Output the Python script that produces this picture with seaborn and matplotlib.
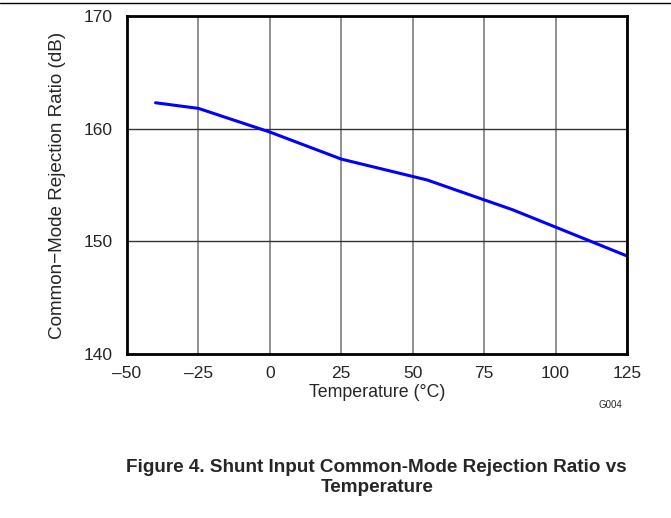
import matplotlib
matplotlib.use('Agg')
import matplotlib.pyplot as plt
import seaborn as sns
import pandas as pd
from matplotlib.lines import Line2D

# Dados
temperatura = [-40, -25, 0, 25, 55, 85, 125]
cmrr = [162.3, 161.8, 159.7, 157.3, 155.45, 152.8, 148.7]
xticks = [-50, -25, 0, 25, 50, 75, 100, 125]
yticks = [140, 150, 160, 170]

df = pd.DataFrame({'Temperatura': temperatura, 'CMRR': cmrr})

sns.set_style('white')
plt.rcParams['font.family'] = ['Liberation Sans', 'DejaVu Sans']

fig = plt.figure(figsize=(6.71, 5.18), dpi=100)
ax = fig.add_axes([127 / 671, 1 - 354 / 518, 500 / 671, 338 / 518])

sns.lineplot(data=df, x='Temperatura', y='CMRR', ax=ax, color='#0000ff', linewidth=2.2)

ax.set_xlim(-50, 125)
ax.set_ylim(140, 170)
ax.set_xticks(xticks)
ax.set_yticks(yticks)
ax.set_xticklabels([str(v).replace('-', '\u2013') for v in xticks])
ax.set_yticklabels([str(v) for v in yticks])
ax.tick_params(length=0, labelsize=12.5)
ax.tick_params(axis='y', pad=10)
ax.tick_params(axis='x', pad=9)

ax.grid(True, axis='x', color='#888888', linewidth=1.3)
ax.grid(True, axis='y', color='#333333', linewidth=1)
for s in ax.spines.values():
    s.set_visible(True)
    s.set_color('black')
    s.set_linewidth(2)

ax.set_xlabel('Temperature (°C)', fontsize=12.8, labelpad=2)
ax.set_ylabel('Common\u2212Mode Rejection Ratio (dB)', fontsize=13.6, labelpad=13)

fig.text(610 / 671, 1 - 405 / 518, 'G004', fontsize=7, ha='center', va='center')

# Linha separadora no topo
fig.add_artist(Line2D([0, 1], [1 - 2.5 / 518, 1 - 2.5 / 518], color='black', linewidth=1))

fig.text(376 / 671, 1 - 467 / 518, 'Figure 4. Shunt Input Common-Mode Rejection Ratio vs',
         fontsize=13.6, fontweight='bold', ha='center', va='center')
fig.text(377 / 671, 1 - 488 / 518, 'Temperature',
         fontsize=13.6, fontweight='bold', ha='center', va='center')

fig.savefig('out.png', dpi=100)
